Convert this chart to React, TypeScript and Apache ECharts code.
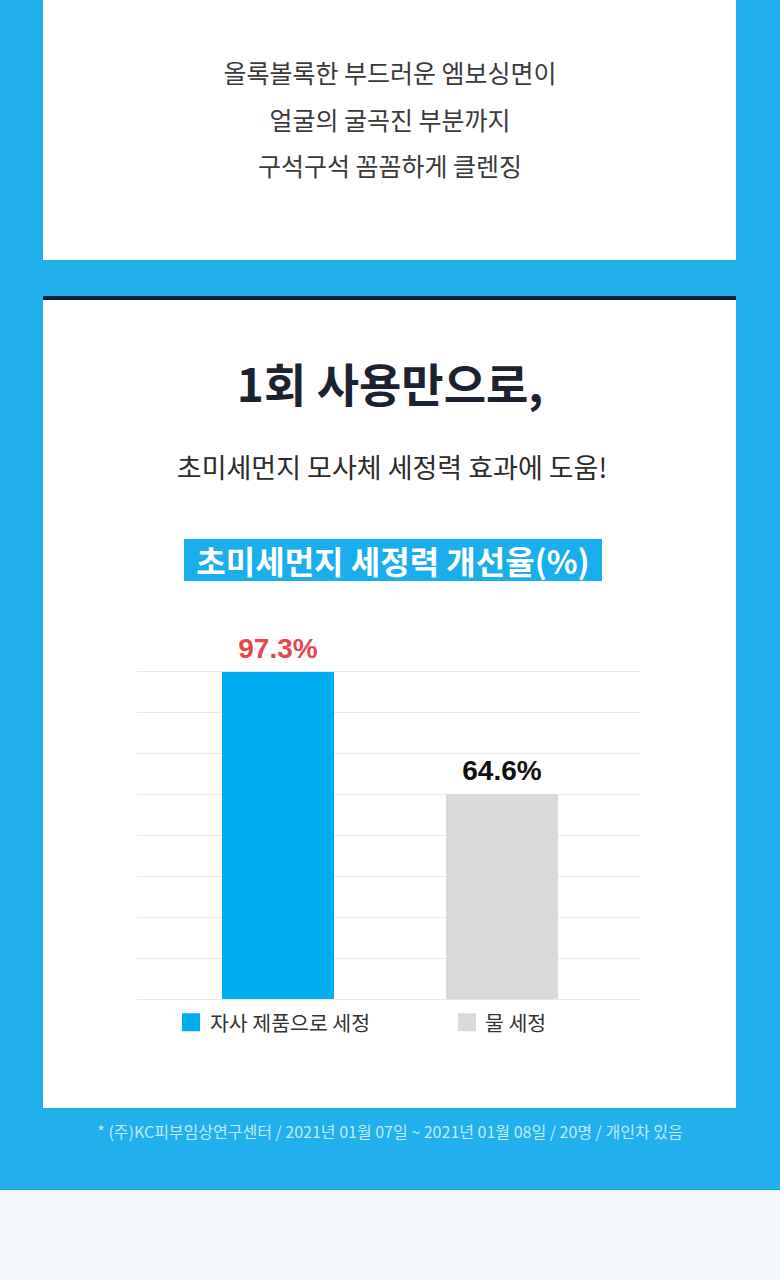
import React, { useEffect, useRef } from "react";
import * as echarts from "echarts";

const introLines = ["올록볼록한 부드러운 엠보싱면이", "얼굴의 굴곡진 부분까지", "구석구석 꼼꼼하게 클렌징"];
const headline = "1회 사용만으로,";
const subline = "초미세먼지 모사체 세정력 효과에 도움!";
const chartTitle = "초미세먼지 세정력 개선율(%)";
const categories = ["자사 제품으로 세정", "물 세정"];
const productValues = [97.3, null];
const waterValues = [null, 64.6];
const footnote = "* (주)KC피부임상연구센터 / 2021년 01월 07일 ~ 2021년 01월 08일 / 20명 / 개인차 있음";

const KR = '"Noto Sans CJK KR", "Noto Sans", sans-serif';
const BLUE = "#20b0ec";

export default function App() {
  const ref = useRef<HTMLDivElement>(null);
  useEffect(() => {
    document.body.style.margin = "0";
    if (!ref.current) return;
    const chart = echarts.init(ref.current, null, { renderer: "svg" });
    const txt = (text: string, y: number, size: number, weight: string | number, fill: string, x = 390) => ({
      type: "text",
      x,
      y,
      style: {
        text,
        fill,
        font: `${weight} ${size}px ${KR}`,
        align: "center",
        verticalAlign: "middle",
      },
    });
    const legendBase = {
      top: 1012,
      padding: 0,
      itemWidth: 18,
      itemHeight: 18,
      icon: "rect",
    };
    const labelBase = {
      show: true,
      position: "top",
      distance: 10,
      formatter: "{c}%",
      fontSize: 28,
      fontWeight: "bold",
      fontFamily: '"Liberation Sans", Arial, sans-serif',
    };
    chart.setOption({
      animation: false,
      backgroundColor: "transparent",
      graphic: [
        txt(introLines[0], 72, 25, "normal", "#3a3a3a"),
        txt(introLines[1], 119, 25, "normal", "#3a3a3a"),
        txt(introLines[2], 165, 25, "normal", "#3a3a3a"),
        txt(headline, 382, 46, "bold", "#1b2230"),
        txt(subline, 466, 27, "normal", "#2b2b2b", 392),
        {
          type: "rect",
          shape: { x: 184, y: 539, width: 418, height: 42 },
          style: { fill: "#1aaeed" },
        },
        txt(chartTitle, 560, 32, "bold", "#ffffff", 393),
        txt(footnote, 1131, 16, "normal", "#c2e8fa"),
      ],
      grid: [
        { left: 137, width: 503, top: 671, height: 328 },
        { left: 166, width: 448, top: 671, height: 328 },
      ],
      xAxis: [
        { type: "value", gridIndex: 0, min: 0, max: 1, show: false },
        { type: "category", gridIndex: 1, data: categories, show: false },
      ],
      yAxis: [
        {
          type: "value",
          gridIndex: 0,
          min: 0,
          max: 8,
          interval: 1,
          axisLabel: { show: false },
          axisLine: { show: false },
          axisTick: { show: false },
          splitLine: { show: true, lineStyle: { color: "#e9e9e9", width: 1 } },
        },
        { type: "value", gridIndex: 1, min: 9.6, max: 97.6, show: false, splitLine: { show: false } },
      ],
      legend: [
        {
          ...legendBase,
          data: [categories[0]],
          left: 182,
          textStyle: { fontSize: 20.5, color: "#333", fontFamily: KR, padding: [0, 0, 0, 5] },
        },
        {
          ...legendBase,
          data: [categories[1]],
          left: 458,
          textStyle: { fontSize: 20.5, color: "#333", fontFamily: KR, padding: [0, 0, 0, 4] },
        },
      ],
      series: [
        {
          name: categories[0],
          type: "bar",
          xAxisIndex: 1,
          yAxisIndex: 1,
          data: productValues,
          barWidth: 112,
          barGap: "-100%",
          itemStyle: { color: "#00aeef" },
          label: { ...labelBase, color: "#e6474b" },
        },
        {
          name: categories[1],
          type: "bar",
          xAxisIndex: 1,
          yAxisIndex: 1,
          data: waterValues,
          barWidth: 112,
          barGap: "-100%",
          itemStyle: { color: "#d9d9d9" },
          label: { ...labelBase, color: "#111111" },
        },
      ],
    });
    return () => chart.dispose();
  }, []);

  return (
    <div style={{ position: "relative", width: 780, height: 1280, background: BLUE, overflow: "hidden" }}>
      <div style={{ position: "absolute", left: 43, top: 0, width: 693, height: 260, background: "#ffffff" }} />
      <div style={{ position: "absolute", left: 43, top: 296, width: 693, height: 4, background: "#15202e" }} />
      <div style={{ position: "absolute", left: 43, top: 300, width: 693, height: 808, background: "#ffffff" }} />
      <div style={{ position: "absolute", left: 0, top: 1189, width: 780, height: 91, background: "#f4f8fa", borderTop: "1px solid #1aa3da" }} />
      <div ref={ref} style={{ position: "absolute", left: 0, top: 0, width: 780, height: 1280 }} />
    </div>
  );
}
